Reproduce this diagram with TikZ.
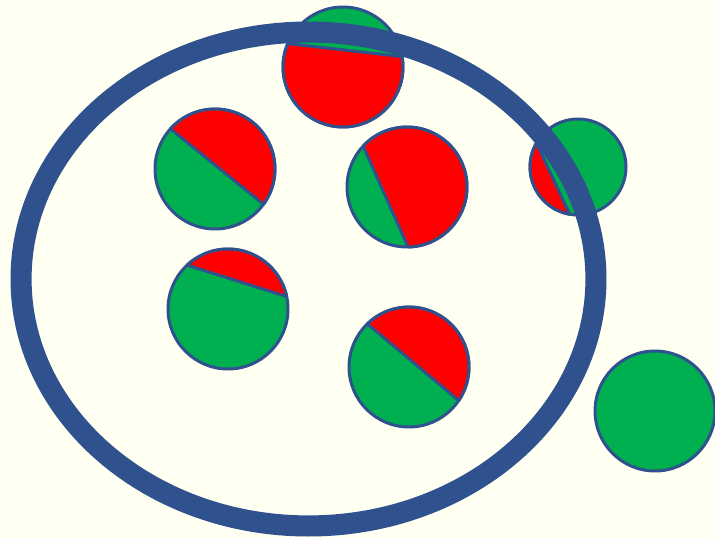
\documentclass[tikz,border=0pt]{standalone}
\usepackage{tikz}
\usetikzlibrary{shapes.geometric}
\definecolor{ringblue}{HTML}{2F528F}
\definecolor{ballgreen}{HTML}{00B050}
\definecolor{ballred}{HTML}{FF0000}
\definecolor{paper}{HTML}{FFFFF2}

\begin{document}
\begin{tikzpicture}[
x=0.02cm,
y=0.02cm,
ball/.style={
    circle,
    draw=ringblue,
    fill=ballgreen,
    line width=1.7pt,
    minimum size=2.4cm,
    inner sep=0pt,
    outer sep=0pt
},
half/.style={
    draw=ringblue,
    fill=ballred,
    line width=1.7pt,
    line join=round
},
ring/.style={
    draw=ringblue,
    ellipse,
    line width=12pt,
    minimum width=11.5cm,
    minimum height=9.88cm,
    inner sep=0pt
}
]

\fill[paper] (0,0) rectangle (715,538);
\useasboundingbox (0,0) rectangle (715,538);

% balls
\node[ball] (topball) at (343,471) {};
\draw[half] (topball.157) arc[start angle=157, end angle=370, radius=1.2cm] -- cycle;

\node[ball] (leftball) at (215,369) {};
\draw[half] (leftball.-36) arc[start angle=-36, end angle=138, radius=1.2cm] -- cycle;

\node[ball] (midball) at (407,351) {};
\draw[half] (midball.-89) arc[start angle=-89, end angle=137, radius=1.2cm] -- cycle;

\node[ball, minimum size=1.92cm] (edgeball) at (578,371) {};
\draw[half] (edgeball.150) arc[start angle=150, end angle=260, radius=0.96cm] -- cycle;

\node[ball] (lowball) at (228,229) {};
\draw[half] (lowball.12) arc[start angle=12, end angle=133, radius=1.2cm] -- cycle;

\node[ball] (lowmidball) at (409,171) {};
\draw[half] (lowmidball.-34) arc[start angle=-34, end angle=134, radius=1.2cm] -- cycle;

\node[ball] (outball) at (655,127) {};

% the ring goes over the balls
\node[ring] (fence) at (308.5,259) {};

\end{tikzpicture}
\end{document}
